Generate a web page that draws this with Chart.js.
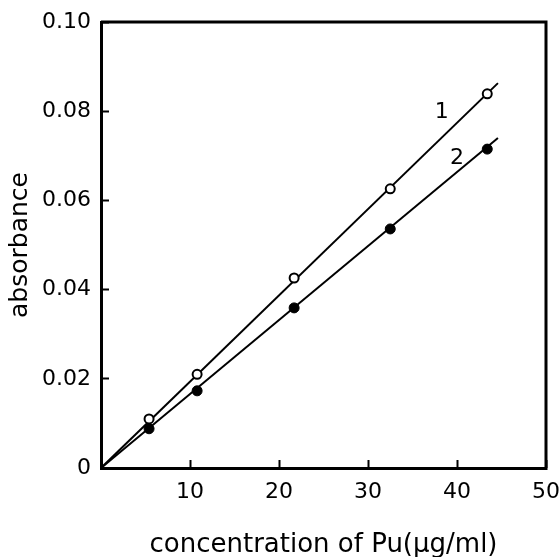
<!DOCTYPE html>
<html>
<head>
<meta charset="utf-8">
<script src="https://cdn.jsdelivr.net/npm/chart.js@4.4.1/dist/chart.umd.min.js"></script>
<style>
  html, body { margin: 0; padding: 0; background: #fff; }
  #wrap { width: 560px; height: 557px; }
</style>
</head>
<body>
<div id="wrap"><canvas id="absChart"></canvas></div>
<script>
// concentration of Pu (ug/ml) and measured absorbance
const conc  = [5.4, 10.8, 21.7, 32.5, 43.4];
const abs1  = [0.011, 0.021, 0.0426, 0.0626, 0.0839];
const abs2  = [0.0088, 0.0173, 0.0359, 0.0536, 0.0715];
// ends of the drawn calibration lines
const fitX  = [0, 44.6];
const fit1  = [0, 0.0863];
const fit2  = [0, 0.0740];
const xTicks = [0, 10, 20, 30, 40, 50];
const yTicks = [0, 0.02, 0.04, 0.06, 0.08, 0.10];

function pts(xs, ys){
  return xs.map((x, i) => ({x: x, y: ys[i]}));
}

// top and right edge of the frame + the curve numbers
const frameAndLabels = {
  id: 'frameAndLabels',
  afterDatasetsDraw(chart){
    const ctx = chart.ctx;
    const a = chart.chartArea;
    const xs = chart.scales.x, ys = chart.scales.y;
    ctx.save();
    ctx.strokeStyle = '#000';
    ctx.lineWidth = 3;
    ctx.beginPath();
    ctx.moveTo(a.left, a.top);
    ctx.lineTo(a.right, a.top);
    ctx.lineTo(a.right, a.bottom);
    ctx.stroke();

    ctx.fillStyle = '#000';
    ctx.font = '22px "DejaVu Sans"';
    ctx.textAlign = 'center';
    ctx.textBaseline = 'middle';
    ctx.fillText('1', xs.getPixelForValue(38.3), ys.getPixelForValue(0.0798));
    ctx.fillText('2', xs.getPixelForValue(40.0), ys.getPixelForValue(0.0695));
    ctx.restore();
  }
};

const tickFont = {family: 'DejaVu Sans', size: 22};

new Chart(document.getElementById('absChart').getContext('2d'), {
  type: 'scatter',
  data: {
    datasets: [
      {
        label: '1',
        data: pts(conc, abs1),
        order: 0,
        pointRadius: 4.5,
        pointBorderWidth: 2,
        pointBorderColor: '#000',
        pointBackgroundColor: '#fff',
        showLine: false
      },
      {
        label: '2',
        data: pts(conc, abs2),
        order: 1,
        pointRadius: 5,
        pointBorderWidth: 1,
        pointBorderColor: '#000',
        pointBackgroundColor: '#000',
        showLine: false
      },
      {
        label: 'fit 1',
        data: pts(fitX, fit1),
        order: 2,
        showLine: true,
        borderColor: '#000',
        borderWidth: 2,
        pointRadius: 0
      },
      {
        label: 'fit 2',
        data: pts(fitX, fit2),
        order: 3,
        showLine: true,
        borderColor: '#000',
        borderWidth: 2,
        pointRadius: 0
      }
    ]
  },
  options: {
    responsive: true,
    maintainAspectRatio: false,
    animation: false,
    layout: { padding: { top: 22, right: 14, left: 0, bottom: 0 } },
    plugins: {
      legend: { display: false },
      tooltip: { enabled: false }
    },
    scales: {
      x: {
        type: 'linear',
        min: 0, max: 50,
        afterBuildTicks: s => { s.ticks = xTicks.map(v => ({value: v})); },
        afterFit: s => { s.height = 89; s.paddingRight = 0; s.paddingLeft = 0; },
        grid: { drawOnChartArea: false, tickLength: -8, tickWidth: 2, color: '#000' },
        border: { color: '#000', width: 3 },
        ticks: {
          color: '#000', font: tickFont, padding: 19, maxRotation: 0,
          callback: v => v === 0 ? '' : String(v)
        },
        title: {
          display: true,
          text: 'concentration of Pu(\u03bcg/ml)',
          color: '#000',
          font: {family: 'DejaVu Sans', size: 26, lineHeight: 1},
          padding: {top: 0, bottom: -1}
        }
      },
      y: {
        type: 'linear',
        min: 0, max: 0.10,
        afterBuildTicks: s => { s.ticks = yTicks.map(v => ({value: v})); },
        afterFit: s => { s.width = 101; s.paddingTop = 0; s.paddingBottom = 0; },
        grid: { drawOnChartArea: false, tickLength: -8, tickWidth: 2, color: '#000' },
        border: { color: '#000', width: 3 },
        ticks: {
          color: '#000', font: tickFont, padding: 18,
          callback: v => v === 0 ? '0' : v.toFixed(2)
        },
        title: {
          display: true,
          text: 'absorbance',
          color: '#000',
          font: {family: 'DejaVu Sans', size: 25, lineHeight: 1},
          padding: {top: 8, bottom: 0}
        }
      }
    }
  },
  plugins: [frameAndLabels]
});
</script>
</body>
</html>
